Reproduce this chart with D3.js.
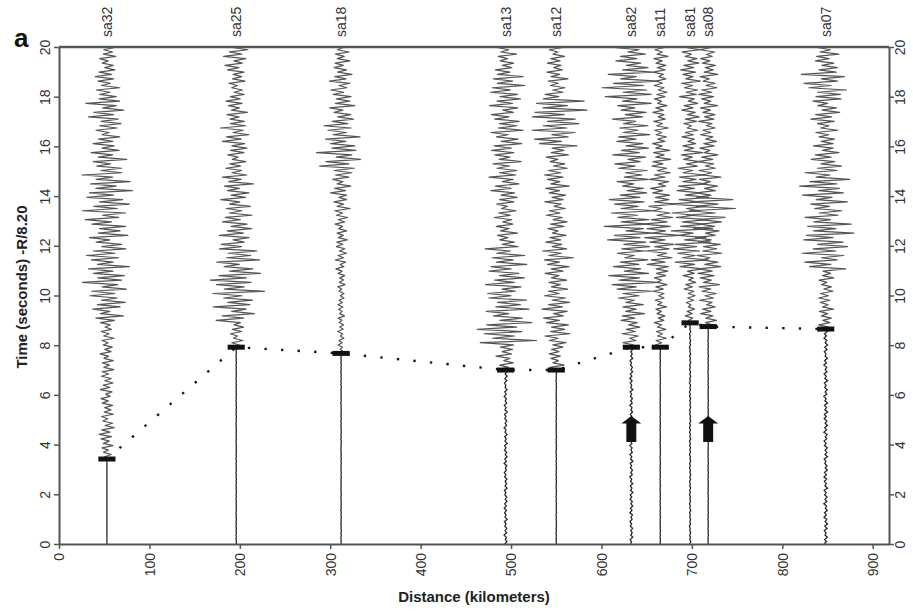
<!DOCTYPE html>
<html>
<head>
<meta charset="utf-8">
<script src="https://cdn.jsdelivr.net/npm/d3@7"></script>
<style>
  body { margin: 0; background: #fff; }
  svg { display: block; }
  text { font-family: "Liberation Sans", Arial, Helvetica, sans-serif; }
</style>
</head>
<body>
<svg id="chart" width="913" height="613"></svg>
<script>
// Station names, epicentral distances (km) and picked onset times (s, reduced by R/8.20)
const stations = ["sa32", "sa25", "sa18", "sa13", "sa12", "sa82", "sa11", "sa81", "sa08", "sa07"];
const distances = [53, 196, 312, 494, 550, 633, 665, 698, 718, 848];
const picks = [3.42, 7.92, 7.67, 7.0, 7.0, 7.92, 7.92, 8.9, 8.75, 8.65];

// Background noise level before the onset (km of trace deflection)
const noise = [0, 0.3, 0.3, 1.8, 0.3, 1.8, 0.3, 0.8, 0.3, 2.2];

// Peak trace deflection (km) in each one-second window, 0-1 s ... 19-20 s
const ampSa32 = [0, 0, 0, 7, 10, 8, 8, 8, 8, 22, 28, 26, 26, 29, 29, 22, 17, 24, 15, 11];
const ampSa25 = [0, 0, 0, 0, 0, 0, 0, 5, 9, 26, 33, 29, 20, 18, 19, 13, 18, 13, 11, 15];
const ampSa18 = [0, 0, 0, 0, 0, 0, 0, 3, 4, 4, 5, 7, 7, 10, 13, 28, 22, 17, 14, 10];
const ampSa13 = [0, 0, 0, 0, 0, 0, 0, 11, 36, 29, 24, 24, 13, 14, 19, 18, 22, 19, 22, 12];
const ampSa12 = [0, 0, 0, 0, 0, 0, 0, 9, 17, 17, 13, 19, 13, 13, 15, 15, 29, 35, 13, 11];
const ampSa82 = [0, 0, 0, 0, 0, 0, 0, 5, 11, 15, 31, 22, 31, 28, 21, 22, 21, 22, 36, 20];
const ampSa11 = [0, 0, 0, 0, 0, 0, 0, 4, 7, 7, 9, 17, 22, 17, 13, 12, 9, 9, 8, 9];
const ampSa81 = [0, 0, 0, 0, 0, 0, 0, 0, 3, 6, 8, 21, 28, 24, 19, 14, 10, 11, 12, 12];
const ampSa08 = [0, 0, 0, 0, 0, 0, 0, 0, 6, 10, 13, 17, 17, 31, 14, 13, 10, 11, 12, 10];
const ampSa07 = [0, 0, 0, 0, 0, 0, 0, 0, 8, 9, 10, 28, 32, 24, 32, 19, 14, 19, 29, 15];
const amplitudes = [ampSa32, ampSa25, ampSa18, ampSa13, ampSa12, ampSa82, ampSa11, ampSa81, ampSa08, ampSa07];

// Normalised wiggle shape used for every trace (each station starts at a different offset)
const wiggle = [0.35, -0.62, 0.88, -0.41, 0.22, -0.95, 0.57, -0.30, 0.74, -0.51,
                0.18, -0.69, 1.00, -0.44, 0.29, -0.80, 0.61, -0.25, 0.47, -0.90,
                0.38, -0.55, 0.83, -0.33, 0.15, -0.71, 0.66, -0.48, 0.92, -0.27,
                0.52, -0.85, 0.31, -0.60, 0.77, -0.19, 0.43, -0.97, 0.58, -0.36,
                0.69, -0.53, 0.24, -0.78, 0.95, -0.40, 0.27, -0.66, 0.50, -0.87,
                0.34, -0.58, 0.81, -0.22, 0.63, -0.46, 0.12, -0.74, 0.89, -0.37,
                0.56, -0.31, 0.79, -0.64, 0.20, -0.83, 0.45, -0.17, 0.71, -0.93,
                0.40, -0.50, 0.86, -0.28, 0.60, -0.76, 0.25, -0.67, 0.97, -0.42];

// Arrows marking the onsets discussed in the text
const arrowStations = ["sa82", "sa08"];
const arrowTip = [5.15, 5.15];
const arrowTail = [4.1, 4.1];

// Axis ticks
const xTicks = [0, 100, 200, 300, 400, 500, 600, 700, 800, 900];
const yTicks = [0, 2, 4, 6, 8, 10, 12, 14, 16, 18, 20];

const svg = d3.select("#chart");
const x = d3.scaleLinear().domain([0, 918]).range([59, 889]);
const y = d3.scaleLinear().domain([0, 20]).range([544, 47]);
const axisColor = "#555";

// ---- seismogram traces ----
const dt = 0.09;
const line = d3.line().x(d => x(d[0])).y(d => y(d[1]));
const traceG = svg.append("g");
stations.forEach((name, si) => {
  const pre = [], post = [];
  const off = si * 11;
  for (let i = 0; i * dt <= 20.0001; i++) {
    const t = i * dt;
    const w = wiggle[(i + off) % wiggle.length];
    if (t < picks[si]) {
      pre.push([distances[si] + noise[si] * w, t]);
    } else {
      const a = amplitudes[si][Math.min(19, Math.floor(t))];
      post.push([distances[si] + a * w, t]);
    }
  }
  pre.push([distances[si], picks[si]]);
  post.unshift([distances[si], picks[si]]);
  traceG.append("path").attr("d", line(pre))
    .attr("fill", "none").attr("stroke", "#2a2a2a").attr("stroke-width", 1.3);
  traceG.append("path").attr("d", line(post))
    .attr("fill", "none").attr("stroke", "#555").attr("stroke-width", 1.2)
    .attr("stroke-linejoin", "round");
});

// ---- dotted line joining the picks ----
svg.append("path")
  .attr("d", line(distances.map((d, i) => [d, picks[i]])))
  .attr("fill", "none").attr("stroke", "#1a1a1a")
  .attr("stroke-width", 2.4).attr("stroke-dasharray", "2.4,14.2");

// ---- pick bars ----
svg.append("g").selectAll("rect").data(distances).join("rect")
  .attr("x", d => x(d - 9.5))
  .attr("width", d => x(d + 9.5) - x(d - 9.5))
  .attr("y", (d, i) => y(picks[i]) - 2.5)
  .attr("height", 5)
  .attr("fill", "#111");

// ---- arrows ----
svg.append("g").selectAll("path").data(arrowStations).join("path")
  .attr("d", (s, i) => {
    const d = distances[stations.indexOf(s)];
    const head = arrowTip[i] - 0.3;
    const pts = [
      [d - 5.5, arrowTail[i]], [d - 5.5, head], [d - 11, head], [d, arrowTip[i]],
      [d + 11, head], [d + 5.5, head], [d + 5.5, arrowTail[i]]
    ];
    return "M" + pts.map(p => x(p[0]) + "," + y(p[1])).join("L") + "Z";
  })
  .attr("fill", "#111");

// ---- axes ----
function styleAxis(g) {
  g.select(".domain").attr("stroke", axisColor).attr("stroke-width", 2);
  g.selectAll(".tick line").attr("stroke", axisColor).attr("stroke-width", 1.5);
  g.selectAll(".tick text").attr("fill", "#333").style("font-size", "14px");
}

const gx = svg.append("g").attr("transform", "translate(0,544)")
  .call(d3.axisBottom(x).tickValues(xTicks).tickSize(5).tickSizeOuter(0));
styleAxis(gx);
gx.selectAll(".tick text")
  .attr("transform", "rotate(-90)")
  .attr("x", -9).attr("y", 0).attr("dy", "0.35em")
  .attr("text-anchor", "end");

const gyl = svg.append("g").attr("transform", "translate(59,0)")
  .call(d3.axisLeft(y).tickValues(yTicks).tickSize(5).tickSizeOuter(0));
styleAxis(gyl);
gyl.selectAll(".tick text")
  .attr("transform", "rotate(-90)")
  .attr("x", 0).attr("y", -9).attr("dy", 0)
  .attr("text-anchor", "middle");

const gyr = svg.append("g").attr("transform", "translate(889,0)")
  .call(d3.axisRight(y).tickValues(yTicks).tickSize(5).tickSizeOuter(0));
styleAxis(gyr);
gyr.selectAll(".tick text")
  .attr("transform", "rotate(-90)")
  .attr("x", 0).attr("y", 16).attr("dy", 0)
  .attr("text-anchor", "middle");

// top frame line
svg.append("line")
  .attr("x1", x(0)).attr("x2", x(918)).attr("y1", y(20)).attr("y2", y(20))
  .attr("stroke", axisColor).attr("stroke-width", 2.5);

// ---- station labels ----
svg.append("g").selectAll("text").data(stations).join("text")
  .attr("transform", (s, i) => `translate(${x(distances[i])},37) rotate(-90)`)
  .attr("dy", "0.35em")
  .attr("text-anchor", "start")
  .attr("fill", "#333")
  .style("font-size", "14px")
  .text(s => s);

// ---- titles ----
svg.append("text")
  .attr("transform", "translate(27,287) rotate(-90)")
  .attr("text-anchor", "middle")
  .attr("fill", "#222")
  .style("font-size", "15px").style("font-weight", "bold")
  .text("Time (seconds) -R/8.20");

svg.append("text")
  .attr("x", 474).attr("y", 602)
  .attr("text-anchor", "middle")
  .attr("fill", "#222")
  .style("font-size", "15px").style("font-weight", "bold")
  .text("Distance (kilometers)");

svg.append("text")
  .attr("x", 14).attr("y", 47)
  .attr("fill", "#111")
  .style("font-size", "26px").style("font-weight", "bold")
  .text("a");
</script>
</body>
</html>
